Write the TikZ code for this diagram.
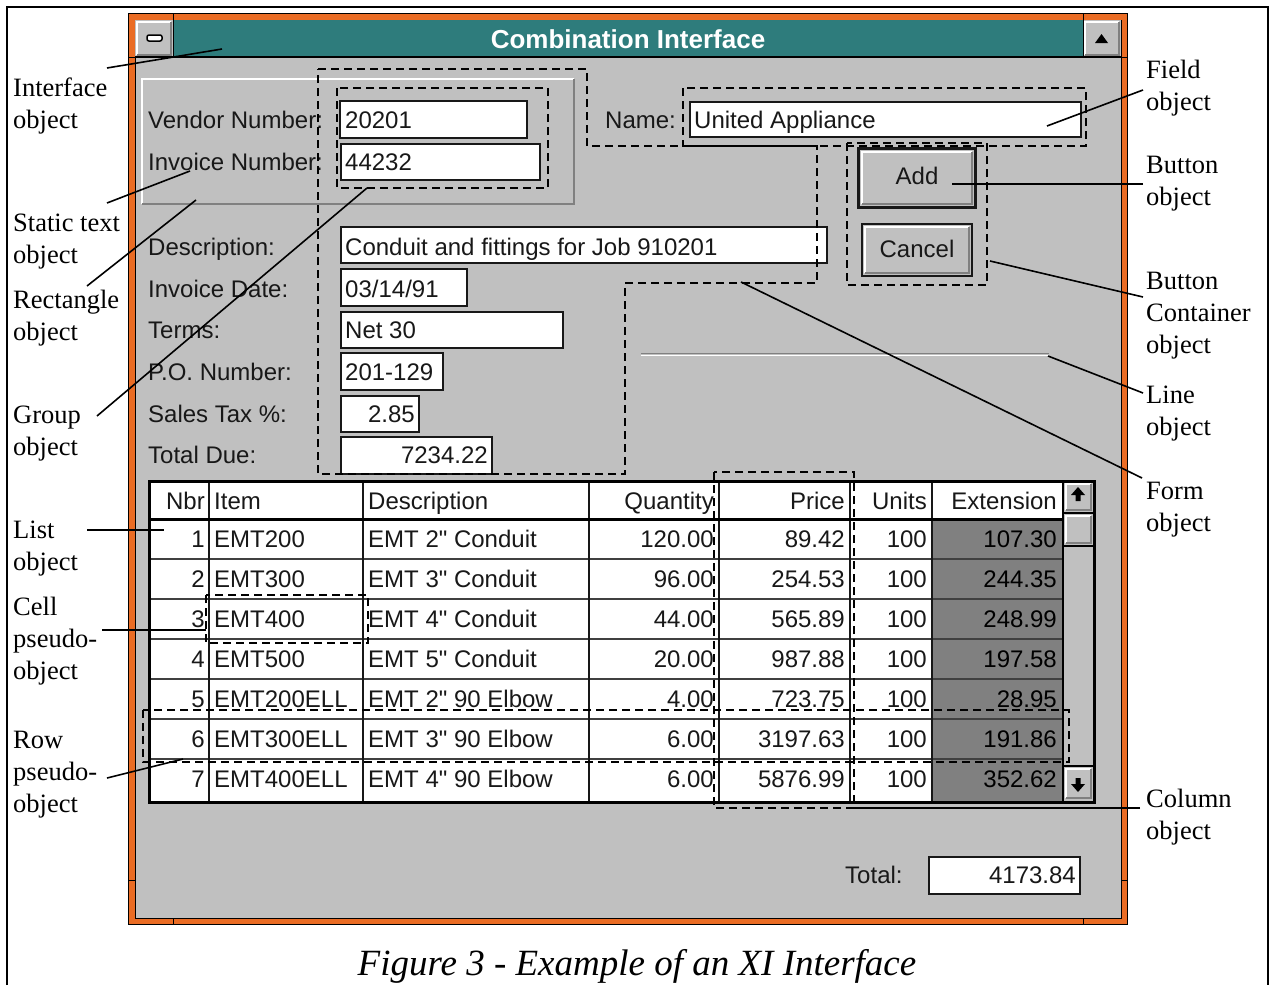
\documentclass[tikz,border=0pt]{standalone}
\usepackage{fontspec}
\setmainfont{Liberation Serif}
\newfontfamily\uifont{Liberation Sans}

\definecolor{face}{RGB}{192,192,192}
\definecolor{dkgray}{RGB}{128,128,128}
\definecolor{titleteal}{RGB}{46,124,124}
\definecolor{frameorange}{RGB}{234,108,36}
\definecolor{ink}{RGB}{24,24,24}

% multi-line label whose baseline is that of its first line
\newcommand\stack[1]{\begin{tabular}[t]{@{}l@{}}#1\end{tabular}}

% a raised 3D control face
\newcommand\raisedface[4]{%
  \fill[face] (#1,#2) rectangle (#3,#4);
  \draw[white, line width=2pt] (#1+2,#4-2) -- (#1+2,#2+2) -- (#3-2,#2+2);
  \draw[dkgray, line width=2pt] (#1+2,#4-2) -- (#3-2,#4-2) -- (#3-2,#2+2);
}

\tikzset{
  ui/.style={font=\uifont\fontsize{24}{28}\selectfont, inner sep=0pt, text=ink},
  uil/.style={ui, anchor=base west},
  uir/.style={ui, anchor=base east},
  uic/.style={ui, anchor=base},
  lbl/.style={font=\fontsize{26.5}{32}\selectfont, inner sep=0pt, anchor=base west},
  field/.style={fill=white, draw=ink, line width=1.6pt},
  outline/.style={draw=black, line width=1.8pt, dash pattern=on 8pt off 5pt},
  leader/.style={draw=black, line width=1.6pt},
}

\begin{document}
\begin{tikzpicture}[x=1pt,y=-1pt]
\useasboundingbox (0,0) rectangle (1273,985);
\fill[white] (0,0) rectangle (1273,985);

% page frame
\draw[line width=1.5pt] (7,985) -- (7,7) -- (1268,7) -- (1268,985);

% ---------- window frame ----------
\fill[frameorange] (128,13) rectangle (1127,924);
\draw[line width=1pt] (128,13) rectangle (1127,924);
\fill[face] (135,20) rectangle (1121,918);
\draw[line width=1pt] (135,20) rectangle (1121,918);
\foreach \x in {173,1083} {
  \draw[line width=1pt] (\x,13) -- (\x,20);
  \draw[line width=1pt] (\x,918) -- (\x,924);
}
\foreach \y in {57,880} {
  \draw[line width=1pt] (128,\y) -- (135,\y);
  \draw[line width=1pt] (1121,\y) -- (1127,\y);
}

% title bar
\fill[titleteal] (173,20) rectangle (1083,57);
\raisedface{135}{20}{173}{57}
\raisedface{1083}{20}{1121}{57}
\draw[line width=1.2pt] (135,57) -- (1121,57);
\draw[line width=1pt] (173,20) -- (173,57) (1083,20) -- (1083,57);
\draw[fill=white, line width=1.5pt, rounded corners=2pt] (147,35) rectangle (162,41);
\fill[black] (1095,43) -- (1108,43) -- (1101.5,34) -- cycle;
\node[font=\uifont\bfseries\fontsize{26}{30}\selectfont, text=white, inner sep=0pt, anchor=base]
  (title) at (628,48) {Combination Interface};

% ---------- header area ----------
% etched rectangle
\draw[white, line width=2pt] (142,204) -- (142,79) -- (574,79);
\draw[dkgray, line width=2pt] (142,204) -- (574,204) -- (574,79);

\node[uil] (vendor-lbl) at (148,128) {Vendor Number:};
\node[uil] (invoice-lbl) at (148,170) {Invoice Number:};
\draw[field] (340,101) rectangle (527,138);
\node[uil] (vendor-val) at (345,128) {20201};
\draw[field] (341,144) rectangle (540,180);
\node[uil] (invoice-val) at (345,170) {44232};

\node[uil] (name-lbl) at (605,128) {Name:};
\draw[field] (690,102) rectangle (1081,137);
\node[uil] (name-val) at (694,128) {United Appliance};

% detail fields
\node[uil] (desc-lbl)  at (148,255) {Description:};
\node[uil] (date-lbl)  at (148,297) {Invoice Date:};
\node[uil] (terms-lbl) at (148,338) {Terms:};
\node[uil] (po-lbl)    at (148,380) {P.O. Number:};
\node[uil] (tax-lbl)   at (148,422) {Sales Tax \%:};
\node[uil] (due-lbl)   at (148,463) {Total Due:};

\draw[field] (341,227) rectangle (827,263);
\node[uil] (desc-val) at (345,255) {Conduit and fittings for Job 910201};
\draw[field] (341,269) rectangle (467,306);
\node[uil] (date-val) at (345,297) {03/14/91};
\draw[field] (341,312) rectangle (563,348);
\node[uil] (terms-val) at (345,338) {Net 30};
\draw[field] (341,353) rectangle (443,390);
\node[uil] (po-val) at (345,380) {201-129};
\draw[field] (341,396) rectangle (419,432);
\node[uir] (tax-val) at (415,422) {2.85};
\draw[field] (341,437) rectangle (492,474);
\node[uir] (due-val) at (488,463) {7234.22};

% buttons
\fill[ink] (857,147) rectangle (977,209);
\raisedface{860}{150}{974}{206}
\node[uic] (add) at (917,184) {Add};
\fill[ink] (861,223) rectangle (973,277);
\raisedface{863}{225}{971}{275}
\node[uic] (cancel) at (917,257) {Cancel};

% etched line
\draw[dkgray, line width=1.5pt] (641,353.5) -- (1049,353.5);
\draw[white, line width=1.5pt] (641,355.5) -- (1049,355.5);

% ---------- list ----------
\fill[white] (149,481) rectangle (1063,801);
\fill[dkgray] (932,519) rectangle (1063,801);
\foreach \y in {559,599,639,679,719,759}
  \draw[black!75, line width=2pt] (149,\y) -- (1063,\y);
\foreach \x in {209,363,589,719,850,932}
  \draw[ink, line width=1.6pt] (\x,481) -- (\x,801);
\draw[black, line width=3pt] (149,519) -- (1063,519);

% scroll bar
\fill[face] (1063,481) rectangle (1094,801);
\raisedface{1064}{482}{1093}{512}
\raisedface{1064}{514}{1093}{545}
\raisedface{1064}{767}{1093}{800}
\draw[line width=1.5pt] (1063,513) -- (1094,513) (1063,546) -- (1094,546) (1063,766) -- (1094,766);
\fill[black] (1078,487) -- (1085,495) -- (1080.5,495) -- (1080.5,501) -- (1075.5,501) -- (1075.5,495) -- (1071,495) -- cycle;
\fill[black] (1078,792) -- (1085,784) -- (1080.5,784) -- (1080.5,778) -- (1075.5,778) -- (1075.5,784) -- (1071,784) -- cycle;
\draw[line width=2pt] (1063,481) -- (1063,801);
\draw[black, line width=3pt] (149,481) rectangle (1094,802);

% column headings
\node[uir] (h-nbr)   at (205,509)  {Nbr};
\node[uil] (h-item)  at (214,509)  {Item};
\node[uil] (h-desc)  at (368,509)  {Description};
\node[uir] (h-qty)   at (714,509)  {Quantity};
\node[uir] (h-price) at (845,509)  {Price};
\node[uir] (h-units) at (927,509)  {Units};
\node[uir] (h-ext)   at (1057,509) {Extension};

% rows
\foreach \n/\itm/\ds/\q/\p/\u/\e [count=\i] in {
  1/EMT200/EMT 2" Conduit/120.00/89.42/100/107.30,
  2/EMT300/EMT 3" Conduit/96.00/254.53/100/244.35,
  3/EMT400/EMT 4" Conduit/44.00/565.89/100/248.99,
  4/EMT500/EMT 5" Conduit/20.00/987.88/100/197.58,
  5/EMT200ELL/EMT 2" 90 Elbow/4.00/723.75/100/28.95,
  6/EMT300ELL/EMT 3" 90 Elbow/6.00/3197.63/100/191.86,
  7/EMT400ELL/EMT 4" 90 Elbow/6.00/5876.99/100/352.62}{
  \pgfmathsetmacro\yb{507+40*\i}
  \node[uir] (nbr-\i)   at (205,\yb)  {\n};
  \node[uil] (item-\i)  at (214,\yb)  {\itm};
  \node[uil] (desc-\i)  at (368,\yb)  {\ds};
  \node[uir] (qty-\i)   at (714,\yb)  {\q};
  \node[uir] (price-\i) at (845,\yb)  {\p};
  \node[uir] (units-\i) at (927,\yb)  {\u};
  \node[uir, text=black] (ext-\i) at (1057,\yb) {\e};
}

% total
\node[uil] (total-lbl) at (845,883) {Total:};
\draw[field] (929,857) rectangle (1080,894);
\node[uir] (total-val) at (1076,883) {4173.84};

% ---------- dashed outlines ----------
\draw[outline] (337,88) rectangle (548,188);
\draw[outline] (318,69) -- (587,69) -- (587,146) -- (817,146) -- (817,283)
  -- (625,283) -- (625,474) -- (318,474) -- cycle;
\draw[outline] (683,88) rectangle (1086,146);
\draw[outline] (847,143) rectangle (987,285);
\draw[outline] (206,595) rectangle (368,643);
\draw[outline] (143,710) rectangle (1069,762);
\draw[outline] (714,472) rectangle (854,808);

% ---------- callout labels ----------
\node[lbl] (l-interface) at (13,96)  {\stack{Interface\\object}};
\node[lbl] (l-static)    at (13,231) {\stack{Static text\\object}};
\node[lbl] (l-rect)      at (13,308) {\stack{Rectangle\\object}};
\node[lbl] (l-group)     at (13,423) {\stack{Group\\object}};
\node[lbl] (l-list)      at (13,538) {\stack{List\\object}};
\node[lbl] (l-cell)      at (13,615) {\stack{Cell\\pseudo-\\object}};
\node[lbl] (l-row)       at (13,748) {\stack{Row\\pseudo-\\object}};

\node[lbl] (l-field)     at (1146,78)  {\stack{Field\\object}};
\node[lbl] (l-button)    at (1146,173) {\stack{Button\\object}};
\node[lbl] (l-container) at (1146,289) {\stack{Button\\Container\\object}};
\node[lbl] (l-line)      at (1146,403) {\stack{Line\\object}};
\node[lbl] (l-form)      at (1146,499) {\stack{Form\\object}};
\node[lbl] (l-column)    at (1146,807) {\stack{Column\\object}};

% leader end points
\coordinate (a-interface) at (107,68);   \coordinate (b-interface) at (222,49);
\coordinate (a-static)    at (107,203);  \coordinate (b-static)    at (190,171);
\coordinate (a-rect)      at (87,286);   \coordinate (b-rect)      at (196,200);
\coordinate (a-group)     at (97,416);   \coordinate (b-group)     at (367,188);
\coordinate (a-list)      at (87,530);   \coordinate (b-list)      at (164,530);
\coordinate (a-cell)      at (102,630);  \coordinate (b-cell)      at (206,630);
\coordinate (a-row)       at (107,778);  \coordinate (b-row)       at (183,759);
\coordinate (a-field)     at (1143,90);  \coordinate (b-field)     at (1047,126);
\coordinate (a-button)    at (1143,184); \coordinate (b-button)    at (952,184);
\coordinate (a-container) at (1143,297); \coordinate (b-container) at (990,261);
\coordinate (a-line)      at (1143,393); \coordinate (b-line)      at (1048,356);
\coordinate (a-form)      at (1142,478); \coordinate (b-form)      at (741,282);
\coordinate (a-column)    at (1140,808); \coordinate (b-column)    at (854,808);

\foreach \k in {interface,static,rect,group,list,cell,row,field,button,container,line,form,column}
  \draw[leader] (a-\k) -- (b-\k);

% caption
\node[font=\itshape\fontsize{37}{42}\selectfont, inner sep=0pt, anchor=base]
  (caption) at (637,975) {Figure 3 - Example of an XI Interface};
\end{tikzpicture}
\end{document}
